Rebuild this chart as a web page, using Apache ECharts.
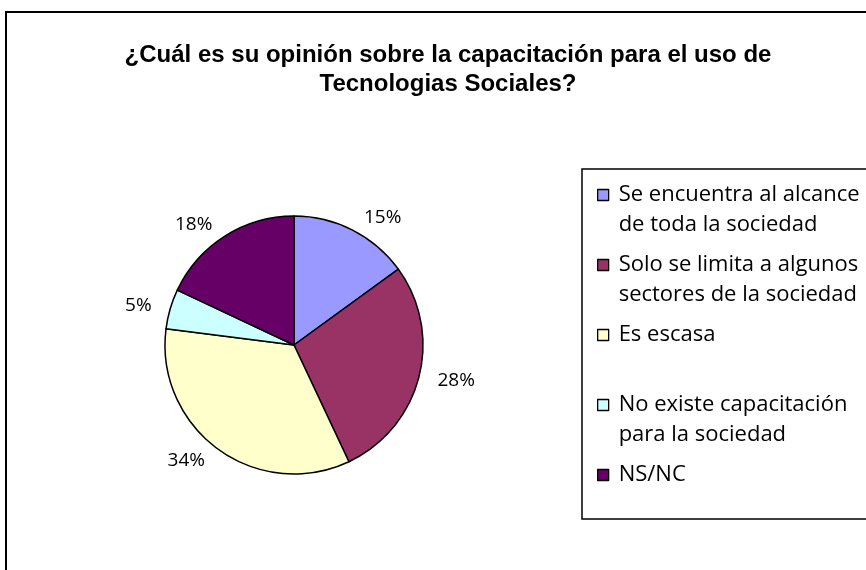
<!DOCTYPE html>
<html>
<head>
<meta charset="utf-8">
<script src="https://cdn.jsdelivr.net/npm/echarts@6/dist/echarts.min.js"></script>
<style>
  html, body { margin: 0; padding: 0; background: #fff; }
  #chart { width: 866px; height: 570px; }
</style>
</head>
<body>
<div id="chart"></div>
<script>
var titleText = "¿Cuál es su opinión sobre la capacitación para el uso de\nTecnologias Sociales?";
var categories = [
  "Se encuentra al alcance\nde toda la sociedad",
  "Solo se limita a algunos\nsectores de la sociedad",
  "Es escasa",
  "No existe capacitación\npara la sociedad",
  "NS/NC"
];
var values = [15, 28, 34, 5, 18];
var colors = ["#9999FF", "#993366", "#FFFFCC", "#CCFFFF", "#660066"];

var chart = echarts.init(document.getElementById("chart"));

var option = {
  animation: false,
  title: {
    text: titleText,
    left: 443,
    top: 36,
    textAlign: "center",
    textStyle: {
      fontFamily: "Liberation Sans",
      fontWeight: "bold",
      fontSize: 24,
      lineHeight: 29,
      color: "#000"
    }
  },
  graphic: [
    { // marco del gráfico
      type: "rect",
      shape: { x: 6, y: 12, width: 900, height: 600 },
      style: { fill: "none", stroke: "#000", lineWidth: 2 }
    },
    { // caja de la leyenda
      type: "rect",
      shape: { x: 582, y: 169, width: 300, height: 350 },
      style: { fill: "none", stroke: "#000", lineWidth: 1.5 }
    }
  ],
  legend: {
    orient: "vertical",
    left: 592,
    top: 145,
    itemWidth: 11,
    itemHeight: 11,
    itemGap: -20,
    itemStyle: { borderColor: "#000", borderWidth: 1.3 },
    icon: "rect",
    data: categories,
    formatter: function (name) {
      // primera línea vacía para alinear el marcador con la primera línea
      return name.indexOf("\n") >= 0 ? " \n" + name : " \n" + name + "\n ";
    },
    textStyle: {
      fontFamily: "Open Sans",
      fontSize: 22,
      lineHeight: 30,
      padding: [0, 0, 0, 5],
      color: "#000"
    }
  },
  series: [
    {
      type: "pie",
      center: [294, 345],
      radius: 129,
      startAngle: 90,
      clockwise: true,
      avoidLabelOverlap: false,
      label: {
        show: true,
        position: "outside",
        formatter: "{d}%",
        fontFamily: "Open Sans",
        fontSize: 19,
        color: "#000"
      },
      labelLine: { show: false, length: 14, length2: 0 },
      itemStyle: { borderColor: "#000", borderWidth: 1.5 },
      emphasis: { disabled: true },
      data: categories.map(function (c, i) {
        return { name: c, value: values[i], itemStyle: { color: colors[i] } };
      })
    }
  ]
};

chart.setOption(option);
window.addEventListener("resize", function () {
  chart.resize();
});
</script>
</body>
</html>
